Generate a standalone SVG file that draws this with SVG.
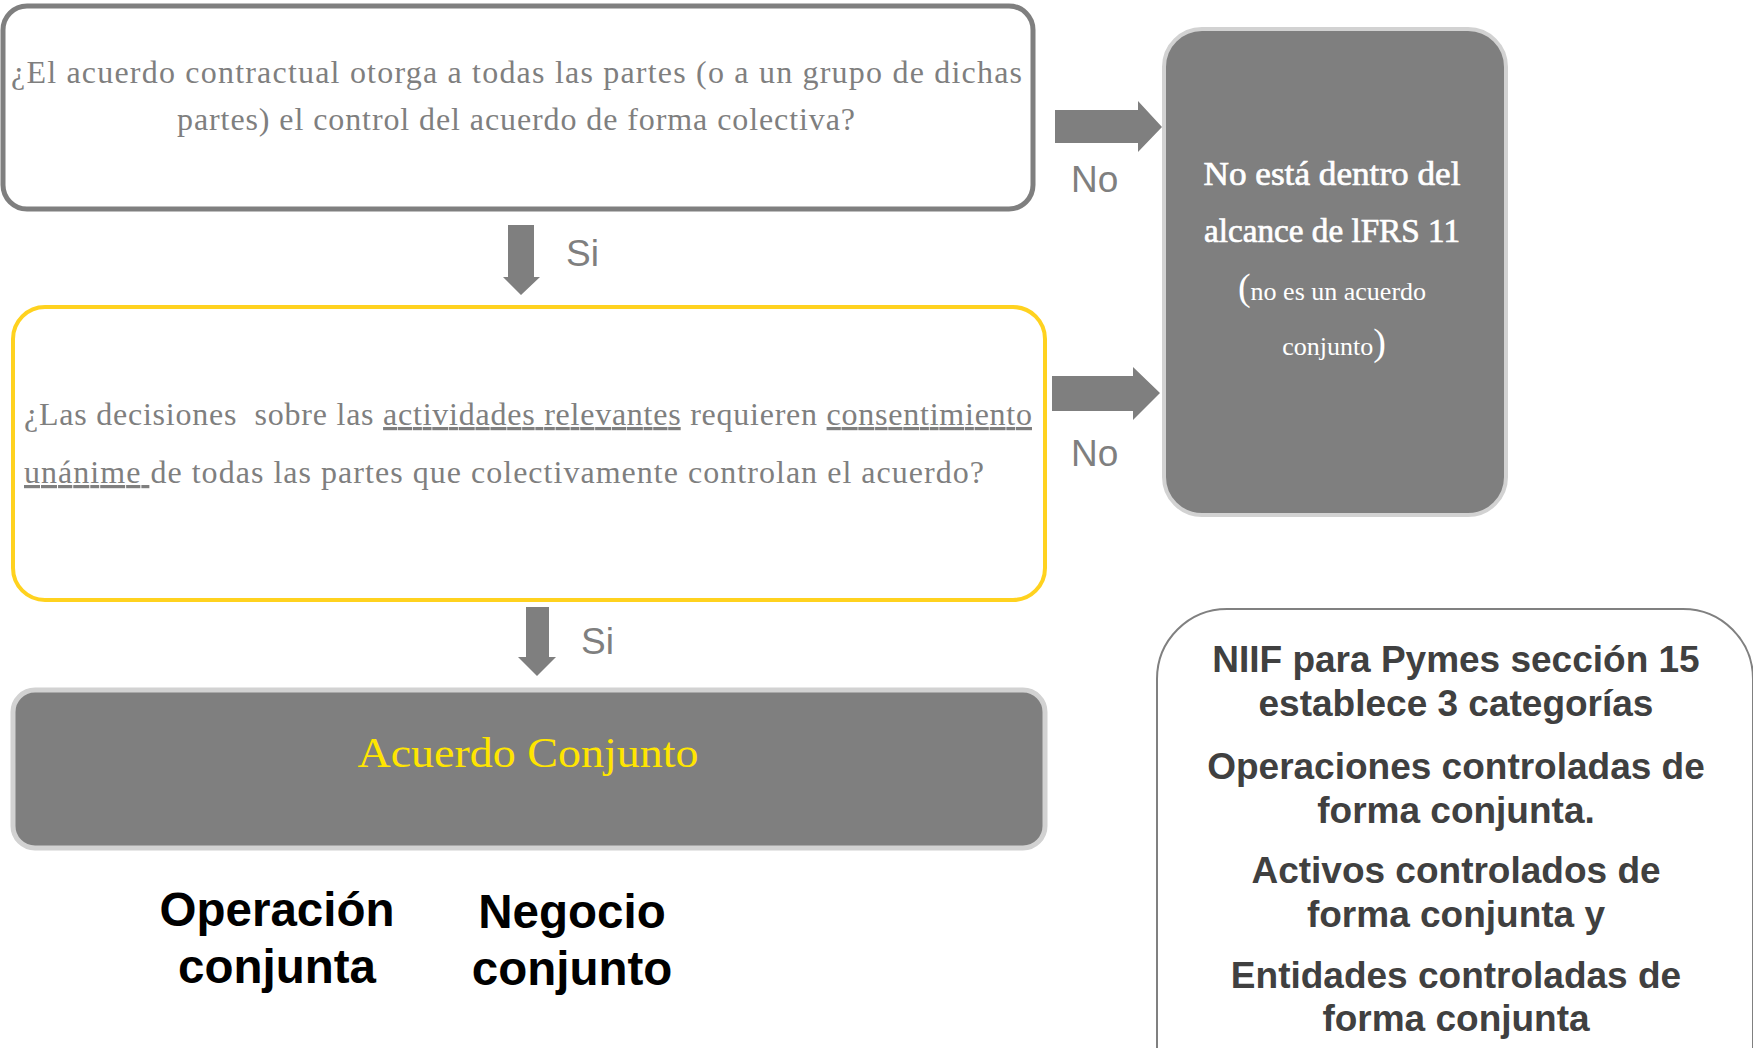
<svg xmlns="http://www.w3.org/2000/svg" width="1753" height="1048" viewBox="0 0 1753 1048">
<style>
.q{font-family:"Liberation Serif","DejaVu Serif",serif;font-size:32px;fill:#7f7f7f}
.lbl{font-family:"Liberation Sans",Arial,sans-serif;font-size:37px;fill:#7f7f7f}
.arr{fill:#7f7f7f}
.big{font-family:"Liberation Sans",Arial,sans-serif;font-size:47.5px;font-weight:bold;fill:#000;text-anchor:middle}
.cat{font-family:"Liberation Sans",Arial,sans-serif;font-size:37px;font-weight:bold;fill:#404040;text-anchor:middle}
.wt{font-family:"Liberation Serif","DejaVu Serif",serif;fill:#fff;text-anchor:middle}
</style>
<rect width="1753" height="1048" fill="#fff"/>
<g id="connectors">
<polygon class="arr" points="1055,110 1138,110 1138,101 1162,127 1138,152 1138,143 1055,143"/>
<polygon class="arr" points="1052,376 1133,376 1133,367 1160,393 1133,420 1133,411 1052,411"/>
<polygon class="arr" points="508,225 534,225 534,277 540,277 521,295 503,277 508,277"/>
<polygon class="arr" points="526,607 549,607 549,657 556,657 537,676 518,657 526,657"/>
<text class="lbl" x="1071" y="192">No</text>
<text class="lbl" x="1071" y="466">No</text>
<text class="lbl" x="566" y="266">Si</text>
<text class="lbl" x="581" y="654">Si</text>
</g>
<g id="q1">
<rect x="3" y="6" width="1030" height="203" rx="24" fill="#fff" stroke="#7f7f7f" stroke-width="5"/>
<text class="q" x="11" y="83" textLength="1011" lengthAdjust="spacing">¿El acuerdo contractual otorga a todas las partes (o a un grupo de dichas</text>
<text class="q" x="177" y="130" textLength="678" lengthAdjust="spacing">partes) el control del acuerdo de forma colectiva?</text>
</g>
<g id="q2">
<rect x="13" y="307" width="1032" height="293" rx="32" fill="#fff" stroke="#FFD21F" stroke-width="4"/>
<text class="q" x="24" y="425" textLength="1008" lengthAdjust="spacing" xml:space="preserve">¿Las decisiones  sobre las <tspan text-decoration="underline">actividades relevantes</tspan> requieren <tspan text-decoration="underline">consentimiento</tspan></text>
<text class="q" x="24" y="483" textLength="960" lengthAdjust="spacing" xml:space="preserve"><tspan text-decoration="underline">unánime </tspan>de todas las partes que colectivamente controlan el acuerdo?</text>
</g>
<g id="out">
<rect x="1164" y="29" width="342" height="486" rx="38" fill="#7f7f7f" stroke="#d2d2d2" stroke-width="4"/>
<text class="wt" x="1332" y="185" font-size="34" textLength="257" lengthAdjust="spacingAndGlyphs" stroke="#fff" stroke-width="0.7">No está dentro del</text>
<text class="wt" x="1332" y="242" font-size="34" textLength="256" lengthAdjust="spacingAndGlyphs" stroke="#fff" stroke-width="0.7">alcance de lFRS 11</text>
<text class="wt" x="1332" y="300"><tspan font-size="38">(</tspan><tspan font-size="26">no es un acuerdo</tspan></text>
<text class="wt" x="1334" y="355"><tspan font-size="26">conjunto</tspan><tspan font-size="38">)</tspan></text>
</g>
<g id="acuerdo">
<rect x="13" y="690" width="1032" height="158" rx="22" fill="#7f7f7f" stroke="#d2d2d2" stroke-width="5"/>
<text x="528" y="767" font-family="Liberation Serif, DejaVu Serif, serif" font-size="43" fill="#FFE500" text-anchor="middle" textLength="341" lengthAdjust="spacingAndGlyphs">Acuerdo Conjunto</text>
</g>
<g id="operacion">
<text class="big" x="277" y="926">Operación</text>
<text class="big" x="277" y="983">conjunta</text>
</g>
<g id="negocio">
<text class="big" x="572" y="928">Negocio</text>
<text class="big" x="572" y="985">conjunto</text>
</g>
<g id="niif">
<rect x="1157" y="609" width="596" height="520" rx="70" fill="#fff" stroke="#808080" stroke-width="2"/>
<text class="cat" x="1456" y="672">NIIF para Pymes sección 15</text>
<text class="cat" x="1456" y="716">establece 3 categorías</text>
<text class="cat" x="1456" y="779">Operaciones controladas de</text>
<text class="cat" x="1456" y="823">forma conjunta.</text>
<text class="cat" x="1456" y="883">Activos controlados de</text>
<text class="cat" x="1456" y="927">forma conjunta y</text>
<text class="cat" x="1456" y="988">Entidades controladas de</text>
<text class="cat" x="1456" y="1031">forma conjunta</text>
</g>
</svg>
